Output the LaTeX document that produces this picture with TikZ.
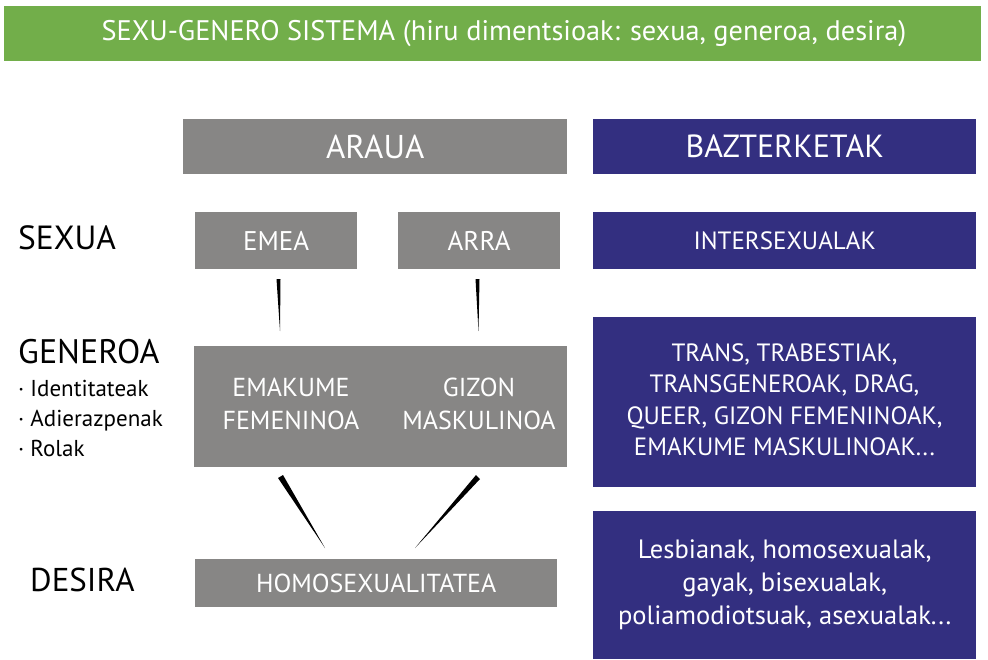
\documentclass[tikz,border=0pt]{standalone}
\usepackage{fontspec}
\setmainfont{PT Sans}
\definecolor{hgreen}{HTML}{72AE4A}
\definecolor{bgray}{HTML}{878685}
\definecolor{bblue}{HTML}{332F80}
\begin{document}
\begin{tikzpicture}[x=1pt,y=-1pt,
  box/.style={anchor=north west,inner sep=0pt,align=center,text=white},
  graybox/.style={box,fill=bgray},
  bluebox/.style={box,fill=bblue},
  intext/.style={inner sep=0pt,align=center,text=white},
  lbl/.style={anchor=west,inner sep=0pt,text=black,align=left}]
\useasboundingbox (0,0) rectangle (988,659);
\fill[white] (0,0) rectangle (988,659);
% header
\node[box,fill=hgreen,minimum width=977pt,minimum height=55pt] (head) at (4,6) {};
\node[intext,font=\fontsize{28.3}{32}\selectfont] (headtxt) at (504,33.5) {SEXU-GENERO SISTEMA (hiru dimentsioak: sexua, generoa, desira)};
% column headers
\node[graybox,minimum width=384pt,minimum height=55pt,font=\fontsize{33}{36}\selectfont] (araua) at (183,119) {ARAUA};
\node[bluebox,minimum width=383pt,minimum height=55pt,font=\fontsize{32}{36}\selectfont] (bazt) at (593,119) {BAZTERKETAK};
% row labels
\node[lbl,font=\fontsize{33.5}{36}\selectfont] (sexua) at (18,238) {SEXUA};
\node[lbl,font=\fontsize{34}{36}\selectfont] (generoa) at (18,352) {GENEROA};
\node[lbl,font=\fontsize{23}{30}\selectfont,anchor=north west] (bullets) at (18,380) {· Identitateak\\· Adierazpenak\\· Rolak};
\node[lbl,font=\fontsize{33}{36}\selectfont] (desira) at (30,580) {DESIRA};
% sexua row
\node[graybox,minimum width=162pt,minimum height=57pt,font=\fontsize{27}{30}\selectfont] (emea) at (195,212) {EMEA};
\node[graybox,minimum width=162pt,minimum height=57pt,font=\fontsize{27}{30}\selectfont] (arra) at (398,212) {ARRA};
\node[bluebox,minimum width=383pt,minimum height=57pt,font=\fontsize{25}{30}\selectfont] (inter) at (593,212) {INTERSEXUALAK};
% generoa row
\node[graybox,minimum width=373pt,minimum height=121pt] (gen) at (194,346) {};
\node[intext,font=\fontsize{26}{33}\selectfont] (emak) at (291,404) {EMAKUME\\FEMENINOA};
\node[intext,font=\fontsize{26}{33}\selectfont] (gizon) at (479,404) {GIZON\\MASKULINOA};
\node[bluebox,minimum width=383pt,minimum height=170pt] (trans) at (593,317) {};
\node[intext,font=\fontsize{25}{31.5}\selectfont] (transtxt) at (784.5,399.5) {TRANS, TRABESTIAK,\\TRANSGENEROAK, DRAG,\\QUEER, GIZON FEMENINOAK,\\EMAKUME MASKULINOAK...};
% desira row
\node[graybox,minimum width=362pt,minimum height=48pt,font=\fontsize{26}{30}\selectfont] (homo) at (195,559) {HOMOSEXUALITATEA};
\node[bluebox,minimum width=383pt,minimum height=148pt,font=\fontsize{26.5}{33}\selectfont] (lesb) at (593,511) {Lesbianak, homosexualak,\\gayak, bisexualak,\\poliamodiotsuak, asexualak...};
% tapered connectors
\fill[black] (276.5,279) -- (280.5,279) -- (280,331) -- cycle;
\fill[black] (475.5,279) -- (479.5,279) -- (478.5,331) -- cycle;
\fill[black] (278,478) -- (283,475) -- (325,548) -- cycle;
\fill[black] (476,475) -- (480,479) -- (415,548) -- cycle;
\end{tikzpicture}
\end{document}
